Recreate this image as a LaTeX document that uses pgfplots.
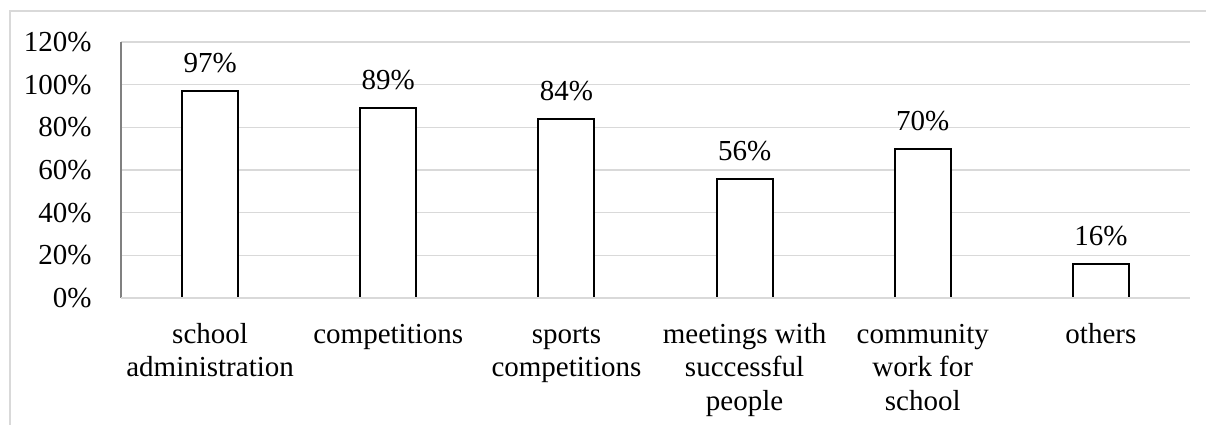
\documentclass[border=0pt]{standalone}
\usepackage{pgfplots}
\pgfplotsset{compat=1.18}
\usepackage{fontspec}
\setmainfont{Liberation Serif}
\definecolor{gridgrey}{HTML}{D9D9D9}
\definecolor{axisgrey}{HTML}{808080}
\newcommand{\st}{\rule{0pt}{11.5bp}}
\begin{document}
\fontsize{14.5bp}{16.75bp}\selectfont
\begin{tikzpicture}
% whole picture: 1206x425 px at 0.5bp per px, axis box at px (121,298)-(1190,42)
\path[use as bounding box] (-60.5bp,-63.5bp) rectangle (542.5bp,149bp);
\draw[gridgrey, line width=0.75bp] (-55.5bp,-63.5bp) -- (-55.5bp,143.5bp) -- (542.5bp,143.5bp);
\begin{axis}[
    scale only axis,
    width=534.5bp, height=128bp,
    at={(0,0)}, anchor=south west,
    xmin=-0.5, xmax=5.5,
    ymin=0, ymax=120,
    ytick={0,20,...,120},
    yticklabel={\pgfmathprintnumber{\tick}\%},
    /pgf/number format/assume math mode=true,
    xtick={0,...,5},
    xticklabels={\st school\\administration, \st competitions, \st sports\\competitions,
                 \st meetings with\\successful\\people, \st community\\work for\\school, \st others},
    xticklabel style={align=center, inner sep=0pt, anchor=north, yshift=-11bp},
    yticklabel style={inner sep=0pt, anchor=east, xshift=-14.5bp},
    major tick length=0pt,
    ymajorgrids,
    grid style={gridgrey, line width=0.75bp},
    axis line style={draw=none},
    clip=false,
    ybar, bar width=28bp,
    nodes near coords={\pgfmathprintnumber{\pgfplotspointmeta}\%},
    every node near coord/.append style={inner sep=0pt, anchor=south, yshift=8.5bp},
    point meta=explicit,
]
\addplot[draw=black, fill=white, line width=1bp]
    coordinates {(0,97) [97] (1,89) [89] (2,84) [84] (3,56) [56] (4,70) [70] (5,16) [16]};
\draw[axisgrey, line width=0.6bp] (rel axis cs:0,0) -- (rel axis cs:0,1);
\draw[gridgrey, line width=0.75bp] (rel axis cs:0,0) -- (rel axis cs:1,0);
\end{axis}
\end{tikzpicture}
\end{document}
